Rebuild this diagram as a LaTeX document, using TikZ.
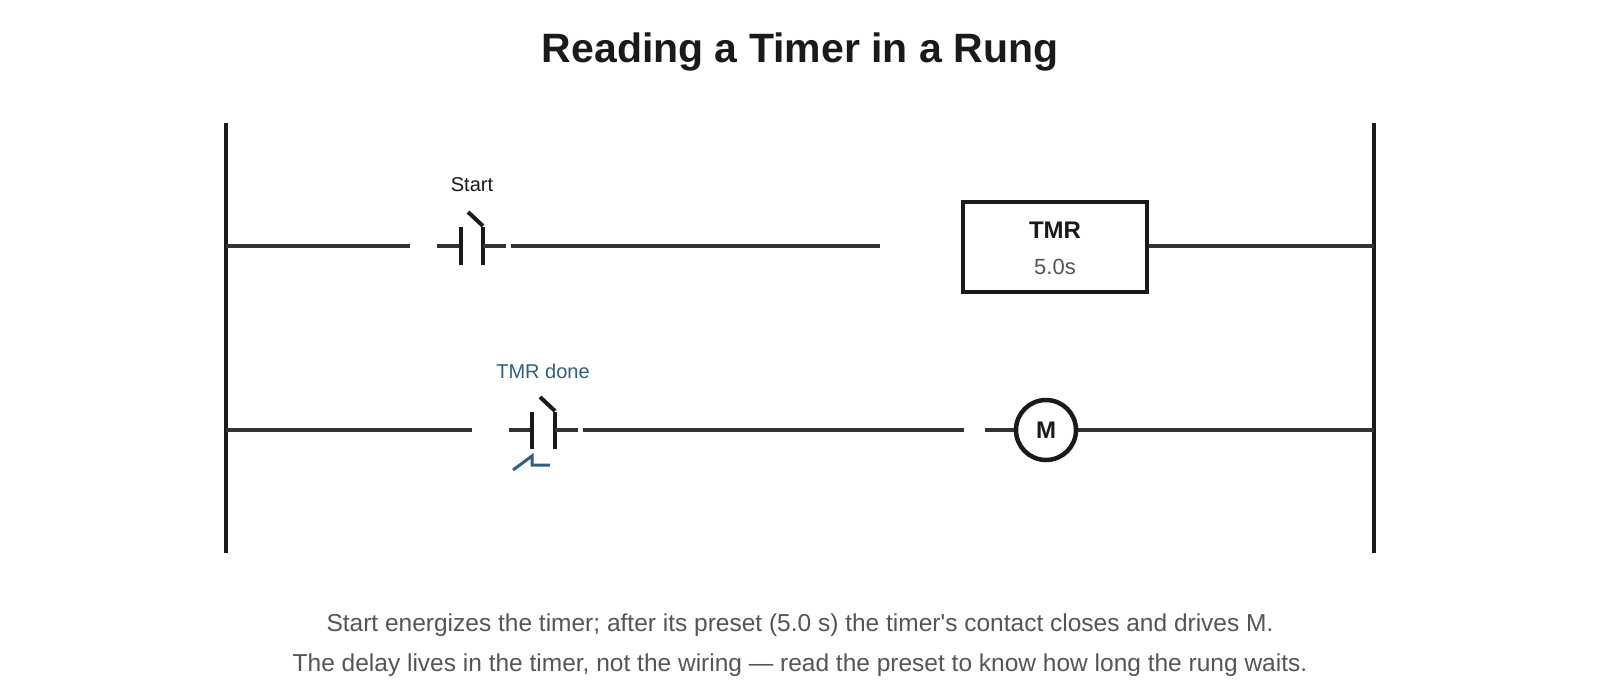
\documentclass[tikz,border=0pt]{standalone}
\usepackage{fontspec}
\setmainfont{Liberation Sans}
\begin{document}
\begin{tikzpicture}[x=1pt,y=-1pt,
  wire/.style={line width=3.5pt,draw=wirec},
  rail/.style={line width=4.5pt,draw=railc},
  bar/.style={line width=4.5pt,draw=railc},
  lbl/.style={font=\fontsize{20}{24}\selectfont,text=railc}]
\definecolor{wirec}{HTML}{333333}
\definecolor{railc}{HTML}{1A1A1A}
\definecolor{bluec}{HTML}{2E5F80}
\definecolor{capc}{HTML}{555555}
\useasboundingbox (0,0) rectangle (1600,697);
\node[font=\bfseries\fontsize{41}{46}\selectfont,text=railc] (title) at (800,52) {Reading a Timer in a Rung};
\coordinate (l1) at (226,123); \coordinate (l2) at (226,553);
\coordinate (r1) at (1374,123); \coordinate (r2) at (1374,553);
\draw[rail] (l1) -- (l2); \draw[rail] (r1) -- (r2);
% rung 1
\coordinate (a1) at (226,246); \coordinate (a2) at (410,246);
\draw[wire] (a1) -- (a2);
\draw[wire] (437,246) -- (461,246);
\draw[bar] (461,227) -- (461,265);
\draw[bar] (483,227) -- (483,265);
\draw[line width=4pt,draw=railc] (468,212) -- (483,226);
\draw[wire] (483,246) -- (506,246);
\draw[wire] (511,246) -- (880,246);
\node[lbl] (start) at (472,185) {Start};
\node[draw=railc,line width=4pt,minimum width=184pt,minimum height=90pt,inner sep=0pt] (tmr) at (1055,247) {};
\node[font=\bfseries\fontsize{24}{28}\selectfont,text=railc] (tmrt) at (1055,230) {TMR};
\node[font=\fontsize{22}{26}\selectfont,text=capc] (pre) at (1055,267) {5.0s};
\draw[wire] (tmr.east |- a1) -- (1374,246);
% rung 2
\draw[wire] (226,430) -- (472,430);
\draw[wire] (509,430) -- (532,430);
\draw[bar] (532,412) -- (532,449);
\draw[bar] (555,412) -- (555,449);
\draw[line width=4pt,draw=railc] (540,397) -- (555,411);
\draw[wire] (555,430) -- (578,430);
\draw[wire] (583,430) -- (964,430);
\node[lbl,text=bluec] (done) at (543,371) {TMR done};
\draw[line width=3pt,draw=bluec] (513,470) -- (532,456) -- (532,465) -- (550,465);
\node[circle,draw=railc,line width=4.5pt,minimum size=60pt,inner sep=0pt,font=\bfseries\fontsize{24}{28}\selectfont,text=railc] (m) at (1046,430) {M};
\draw[wire] (985,430) -- (m.west);
\draw[wire] (m.east) -- (1374,430);
\node[font=\fontsize{24.5}{29}\selectfont,text=capc,align=center] (cap) at (800,645) {Start energizes the timer; after its preset (5.0 s) the timer\textquotesingle s contact closes and drives M.\\[11pt]The delay lives in the timer, not the wiring --- read the preset to know how long the rung waits.};
\end{tikzpicture}
\end{document}
